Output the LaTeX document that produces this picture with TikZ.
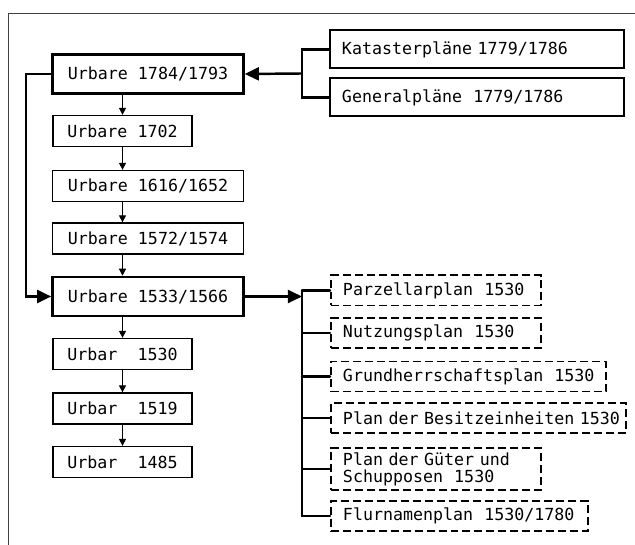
\documentclass[tikz,border=0pt]{standalone}
\usepackage{fontspec}
\setmonofont{DejaVu Sans Mono}
\usetikzlibrary{arrows.meta}

\begin{document}
\begin{tikzpicture}[x=0.03cm,y=-0.03cm,
  font=\ttfamily\fontsize{14.2}{14.6}\selectfont,
  urbar/.style={draw,line width=1.1pt,minimum height=0.93cm,inner sep=0pt},
  wide/.style={urbar,minimum width=5.73cm},
  narrow/.style={urbar,minimum width=4.17cm},
  main/.style={wide,line width=2.2pt,minimum height=1.17cm},
  plan/.style={draw,line width=1.7pt,anchor=west,inner xsep=0.36cm,inner ysep=0pt,
    align=left,minimum height=1.14cm},
  dplan/.style={plan,dash pattern=on 6.8pt off 3.4pt,minimum height=0.9cm},
  down/.style={line width=1.1pt,-{Triangle[length=6pt,width=6pt]}},
  link/.style={line width=2.1pt,line cap=round},
  big/.style={link,-{Triangle[length=12pt,width=11pt]}}]
\useasboundingbox (0,0) rectangle (635,545);
\draw[black!75,line width=0.6pt] (8,545) -- (8,13) -- (635,13);

% Urbare
\draw (148,74) node[main](u1784) {Urbare 1784/1793};
\draw (122.5,131) node[narrow](u1702) {Urbare 1702};
\draw (148,186) node[wide](u1616) {Urbare 1616/1652};
\draw (148,238.5) node[wide](u1572) {Urbare 1572/1574};
\draw (148,296.5) node[main](u1533) {Urbare 1533/1566};
\draw (122.5,354) node[narrow](u1530) {Urbar\ \ 1530};
\draw (122.5,408.5) node[narrow](u1519) {Urbar\ \ 1519};
\draw (122.5,462) node[narrow](u1485) {Urbar\ \ 1485};

\draw[down] (u1784.south -| u1702) -- (u1702.north);
\draw[down] (u1702.south) -- (u1616.north -| u1702);
\draw[down] (u1616.south -| u1702) -- (u1572.north -| u1702);
\draw[down] (u1572.south -| u1702) -- (u1533.north -| u1702);
\draw[down] (u1533.south -| u1530) -- (u1530.north);
\draw[down] (u1530.south) -- (u1519.north);
\draw[down] (u1519.south) -- (u1485.north);

\draw[big] (u1784.west) -- ++(-25,0) |- (u1533.west);

% Plaene 1779/1786
\draw (329,49.5) node[plan,text width=8.1cm](kat) {\mbox{Katasterpläne 1779/1786}};
\draw (329,97.5) node[plan,text width=8.1cm](gen) {\mbox{Generalpläne\ \ 1779/1786}};
\coordinate (kjoin) at (302,73.5);
\draw[link] (kat.west) -| (kjoin) |- (gen.west);
\draw[big] (kjoin) -- (u1784.east);

% Plaene 1530
\draw (330,290.5) node[dplan,text width=5.58cm](parz) {\mbox{Parzellarplan\ \ 1530}};
\draw (330,333) node[dplan,text width=5.58cm](nutz) {\mbox{Nutzungsplan\ \ 1530}};
\draw (330,376.5) node[dplan,text width=7.53cm](grund) {\mbox{Grundherrschaftsplan\ \ 1530}};
\draw (330,418) node[dplan,text width=8.13cm](besitz) {\mbox{Plan der Besitzeinheiten 1530}};
\draw (330,469) node[dplan,text width=5.58cm,minimum height=1.26cm](gueter)
  {\mbox{Plan der Güter und}\\\mbox{Schupposen\ \ 1530}};
\draw (330,516) node[dplan,text width=6.99cm](flur) {\mbox{Flurnamenplan\ \ 1530/1780}};
\coordinate (pjoin) at (302,296.5);
\draw[big] (u1533.east) -- (pjoin);
\draw[link] (pjoin |- parz.west) -- (pjoin |- flur.west);
\foreach \p in {parz,nutz,grund,besitz,gueter,flur}
  \draw[link] (pjoin |- \p.west) -- (\p.west);
\end{tikzpicture}
\end{document}
